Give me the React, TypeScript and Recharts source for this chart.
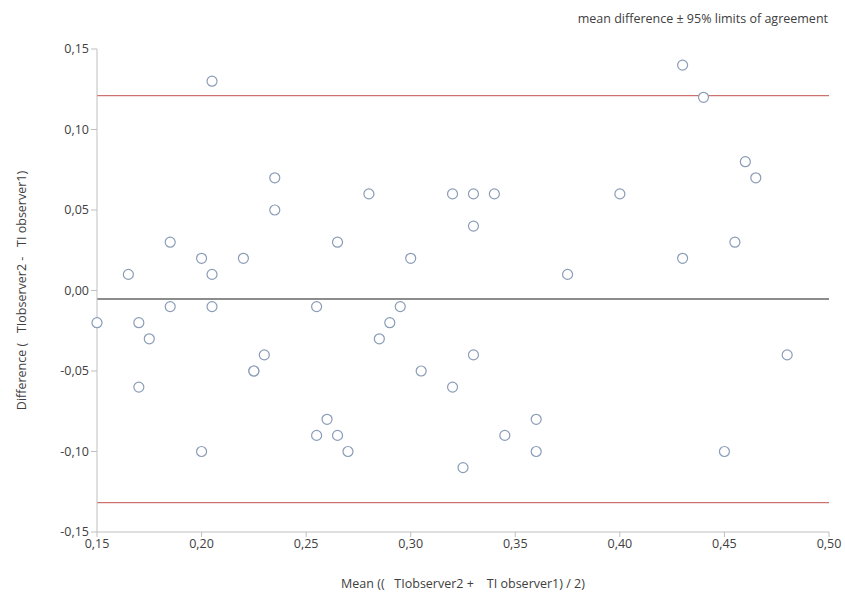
import React from 'react'
import { ScatterChart, Scatter, XAxis, YAxis, ReferenceLine } from 'recharts'

const meanValues = [
  0.15, 0.165, 0.17, 0.17, 0.175, 0.185, 0.185, 0.2, 0.2, 0.205, 0.205, 0.205,
  0.22, 0.225, 0.225, 0.23, 0.235, 0.235, 0.255, 0.255, 0.26, 0.265, 0.265, 0.27,
  0.28, 0.285, 0.29, 0.295, 0.3, 0.305, 0.32, 0.32, 0.325, 0.33, 0.33, 0.33,
  0.34, 0.345, 0.36, 0.36, 0.375, 0.4, 0.43, 0.43, 0.44, 0.45, 0.455, 0.46,
  0.465, 0.48,
]
const diffValues = [
  -0.02, 0.01, -0.02, -0.06, -0.03, 0.03, -0.01, 0.02, -0.1, 0.13, 0.01, -0.01,
  0.02, -0.05, -0.05, -0.04, 0.07, 0.05, -0.01, -0.09, -0.08, 0.03, -0.09, -0.1,
  0.06, -0.03, -0.02, -0.01, 0.02, -0.05, 0.06, -0.06, -0.11, 0.06, 0.04, -0.04,
  0.06, -0.09, -0.08, -0.1, 0.01, 0.06, 0.14, 0.02, 0.12, -0.1, 0.03, 0.08,
  0.07, -0.04,
]
const xTicks = [0.15, 0.2, 0.25, 0.3, 0.35, 0.4, 0.45, 0.5]
const yTicks = [-0.15, -0.1, -0.05, 0, 0.05, 0.1, 0.15]
const meanDiff = -0.0053
const upperLimit = 0.121
const lowerLimit = -0.1318

const points = meanValues.map((x, i) => ({ x, y: diffValues[i] }))

const fmt = (v: number) => v.toFixed(2).replace('.', ',')
const font = 'Open Sans, sans-serif'
const textColor = '#404040'
const axisColor = '#bfbfbf'
const nb = '\u00A0'

const Ring = (props: any) => (
  <circle cx={props.cx} cy={props.cy} r={5} fill="#fff" stroke="#8a9cb6" strokeWidth={1.2} />
)

export default function App() {
  return (
    <div style={{ position: 'absolute', left: 0, top: 0, width: 845, height: 592, background: '#fff', fontFamily: font }}>
      <div style={{ position: 'absolute', right: 17, top: 10, fontSize: 12.5, color: textColor, whiteSpace: 'nowrap' }}>
        mean difference ± 95% limits of agreement
      </div>
      <ScatterChart width={845} height={592} margin={{ top: 49, right: 16, left: 0, bottom: 0 }}>
        <XAxis
          type="number"
          dataKey="x"
          domain={[0.15, 0.5]}
          ticks={xTicks}
          tickFormatter={fmt}
          height={60}
          stroke={axisColor}
          tickSize={5}
          tick={{ fill: textColor, fontSize: 12.5, fontFamily: font }}
          label={{ value: `Mean ((${nb}${nb} TIobserver2 +${nb}${nb}${nb} TI observer1) / 2)`, position: 'insideBottom', offset: 4, fill: textColor, fontSize: 12.5, fontFamily: font }}
        />
        <YAxis
          type="number"
          dataKey="y"
          domain={[-0.15, 0.15]}
          ticks={yTicks}
          tickFormatter={fmt}
          width={97}
          stroke={axisColor}
          tickSize={6}
          tick={{ fill: textColor, fontSize: 12.5, fontFamily: font }}
          label={{ value: `Difference (${nb}${nb} TIobserver2 -${nb}${nb} TI observer1)`, angle: -90, position: 'insideLeft', offset: 22, style: { textAnchor: 'middle' }, fill: textColor, fontSize: 12.5, fontFamily: font }}
        />
        <ReferenceLine y={upperLimit} stroke="#c0504d" strokeWidth={1} />
        <ReferenceLine y={lowerLimit} stroke="#c0504d" strokeWidth={1} />
        <ReferenceLine y={meanDiff} stroke="#8c8c8c" strokeWidth={2} />
        <Scatter data={points} shape={Ring} isAnimationActive={false} />
      </ScatterChart>
    </div>
  )
}
